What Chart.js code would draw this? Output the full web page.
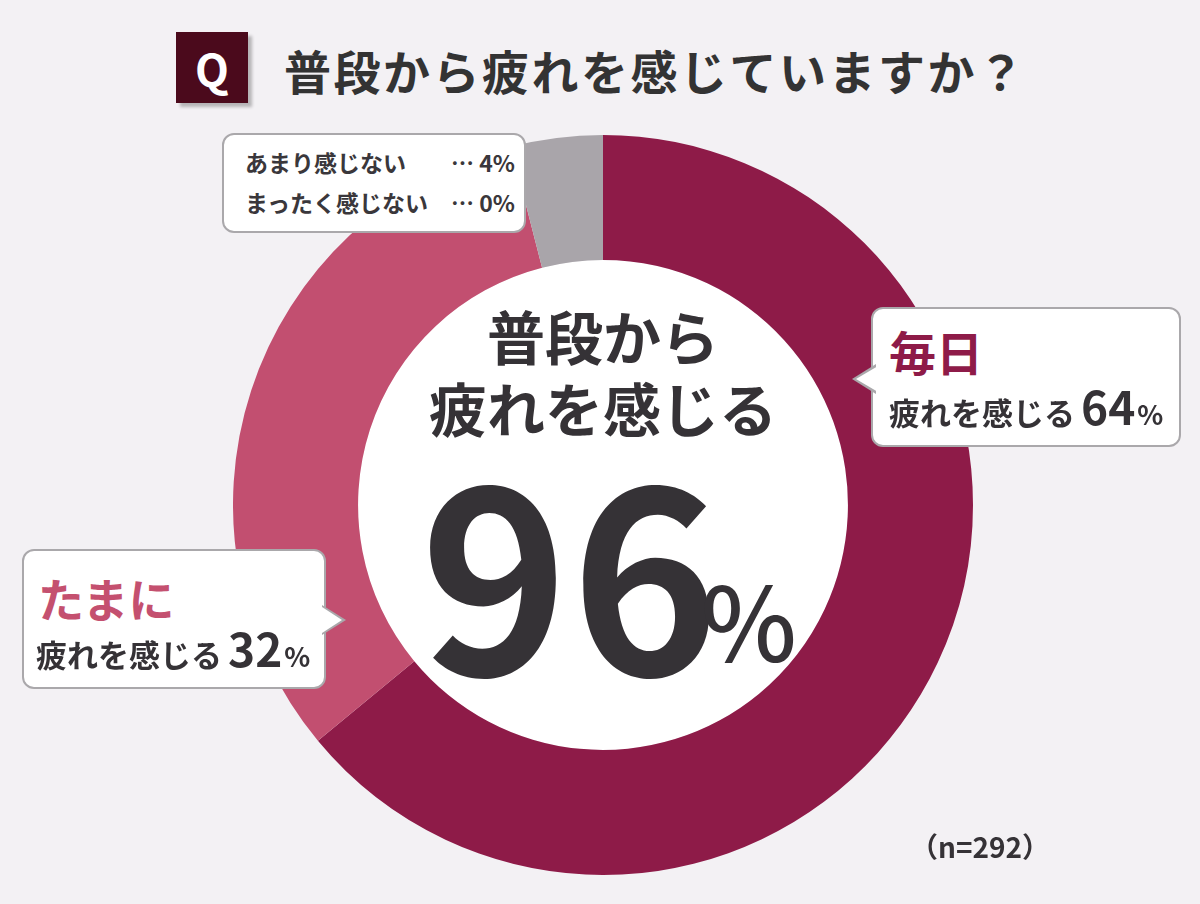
<!DOCTYPE html>
<html lang="ja">
<head>
<meta charset="utf-8">
<script src="https://cdn.jsdelivr.net/npm/chart.js@4"></script>
<style>
  html, body { margin: 0; padding: 0; }
  body {
    width: 1200px; height: 904px; position: relative; overflow: hidden;
    background: #f3f1f4;
    font-family: "Noto Sans CJK JP", "Noto Sans", sans-serif;
    color: #353236;
  }
  .abs { position: absolute; }
  #chartBox { left: 233px; top: 135px; width: 740px; height: 740px; }
  #qbox {
    left: 176px; top: 32px; width: 72px; height: 71px;
    background: #4b0a1c; color: #fff; font-weight: 700; font-size: 44px;
    display: flex; align-items: center; justify-content: center;
    box-shadow: 4px 4px 3px rgba(0,0,0,0.25);
  }
  #title { left: 284px; top: 40px; font-size: 47px; font-weight: 700; line-height: 60px; letter-spacing: 2.5px; color: #333; white-space: nowrap; }
  .callout {
    background: #fff; border: 2px solid #aaa8ab; border-radius: 12px; box-sizing: border-box;
  }
  .tri { width: 24px; height: 30px; }
  .tri-o { background: #aaa8ab; }
  .tri-i { background: #fff; }
  .center-line { left: 358px; width: 490px; text-align: center; font-weight: 700; font-size: 58px; line-height: 70px; white-space: nowrap; }
  .big { font-weight: 700; white-space: nowrap; }
</style>
</head>
<body>
<div id="chartBox" class="abs"><canvas id="graphFatiga"></canvas></div>

<div id="qbox" class="abs">Q</div>
<div id="title" class="abs">普段から疲れを感じていますか？</div>

<!-- cuadro pequeño arriba a la izquierda -->
<div class="abs callout" style="left:222px;top:133px;width:304px;height:100px;"></div>
<div id="smallLegend" class="abs" style="left:245px;top:142px;font-size:23px;font-weight:700;line-height:40px;color:#3a373b;"></div>

<!-- globo derecho -->
<div class="abs callout" style="left:871px;top:307px;width:310px;height:140px;"></div>
<div class="abs tri tri-o" style="left:852px;top:364px;clip-path:polygon(0 50%,100% 0,100% 100%);"></div>
<div class="abs tri tri-i" style="left:856px;top:366px;height:26px;width:22px;clip-path:polygon(0 50%,100% 0,100% 100%);"></div>
<div id="rightHead" class="abs big" style="left:889px;top:321px;font-size:47px;line-height:60px;color:#8e1b48;"></div>
<div id="rightLine" class="abs big" style="left:889px;top:378px;line-height:54px;"></div>

<!-- globo izquierdo -->
<div class="abs callout" style="left:22px;top:549px;width:304px;height:140px;"></div>
<div class="abs tri tri-o" style="left:322px;top:605px;clip-path:polygon(100% 50%,0 0,0 100%);"></div>
<div class="abs tri tri-i" style="left:322px;top:607px;height:26px;width:20px;clip-path:polygon(100% 50%,0 0,0 100%);"></div>
<div id="leftHead" class="abs big" style="left:38px;top:567px;font-size:46px;line-height:60px;color:#c4506f;"></div>
<div id="leftLine" class="abs big" style="left:36px;top:620px;line-height:54px;"></div>

<!-- texto central -->
<div class="abs center-line" style="top:300px;">普段から</div>
<div class="abs center-line" style="top:372px;">疲れを感じる</div>
<div id="bigNum" class="abs big" style="left:420px;top:416px;font-size:252px;line-height:300px;letter-spacing:2px;color:#353236;"></div>
<div class="abs" style="left:701px;top:553px;font-size:102px;line-height:130px;font-weight:500;color:#353236;">%</div>

<div id="nText" class="abs big" style="left:910px;top:826px;font-size:28px;line-height:40px;"></div>

<script>
// Datos del gráfico
var categorias = ['毎日疲れを感じる', 'たまに疲れを感じる', 'あまり感じない', 'まったく感じない']
var porcentajes = [64, 32, 4, 0]
var colores = ['#8e1b48', '#c24f70', '#a9a5aa', '#6e6a70']
var muestra = 292
var totalCansados = porcentajes[0] + porcentajes[1]

// Textos que salen de los datos
document.getElementById('smallLegend').innerHTML =
  '<div style="display:flex;justify-content:space-between;width:270px">' +
  '<span>' + categorias[2] + '</span><span>… ' + porcentajes[2] + '%</span></div>' +
  '<div style="display:flex;justify-content:space-between;width:270px">' +
  '<span>' + categorias[3] + '</span><span>… ' + porcentajes[3] + '%</span></div>'

function lineaPct(valor) {
  return '<span style="font-size:31px">疲れを感じる</span>' +
    '<span style="font-size:46px;margin-left:6px">' + valor + '</span>' +
    '<span style="font-size:27px;margin-left:2px">%</span>'
}
document.getElementById('rightHead').textContent = '毎日'
document.getElementById('rightLine').innerHTML = lineaPct(porcentajes[0])
document.getElementById('leftHead').textContent = 'たまに'
document.getElementById('leftLine').innerHTML = lineaPct(porcentajes[1])
document.getElementById('bigNum').textContent = totalCansados
document.getElementById('nText').textContent = '（n=' + muestra + '）'

// Crear el gráfico de dona
function createChart() {
  const ctx = document.getElementById('graphFatiga').getContext('2d');
  const myChart = new Chart(ctx, {
    type: 'doughnut',
    data: {
      labels: categorias,
      datasets: [{
        data: porcentajes,
        backgroundColor: colores,
        borderWidth: 0
      }]
    },
    options: {
      responsive: true,
      maintainAspectRatio: false,
      animation: false,
      cutout: '66.2%',
      rotation: 0,
      layout: { padding: 0 },
      plugins: {
        legend: { display: false },
        tooltip: { enabled: false }
      }
    },
    plugins: [{
      // círculo blanco del centro
      id: 'centroBlanco',
      beforeDatasetsDraw(chart) {
        const meta = chart.getDatasetMeta(0).data[0];
        const c = chart.ctx;
        c.save();
        c.beginPath();
        c.arc(meta.x, meta.y, meta.innerRadius, 0, Math.PI * 2);
        c.fillStyle = '#ffffff';
        c.fill();
        c.restore();
      }
    }]
  });
}

createChart();
</script>
</body>
</html>
